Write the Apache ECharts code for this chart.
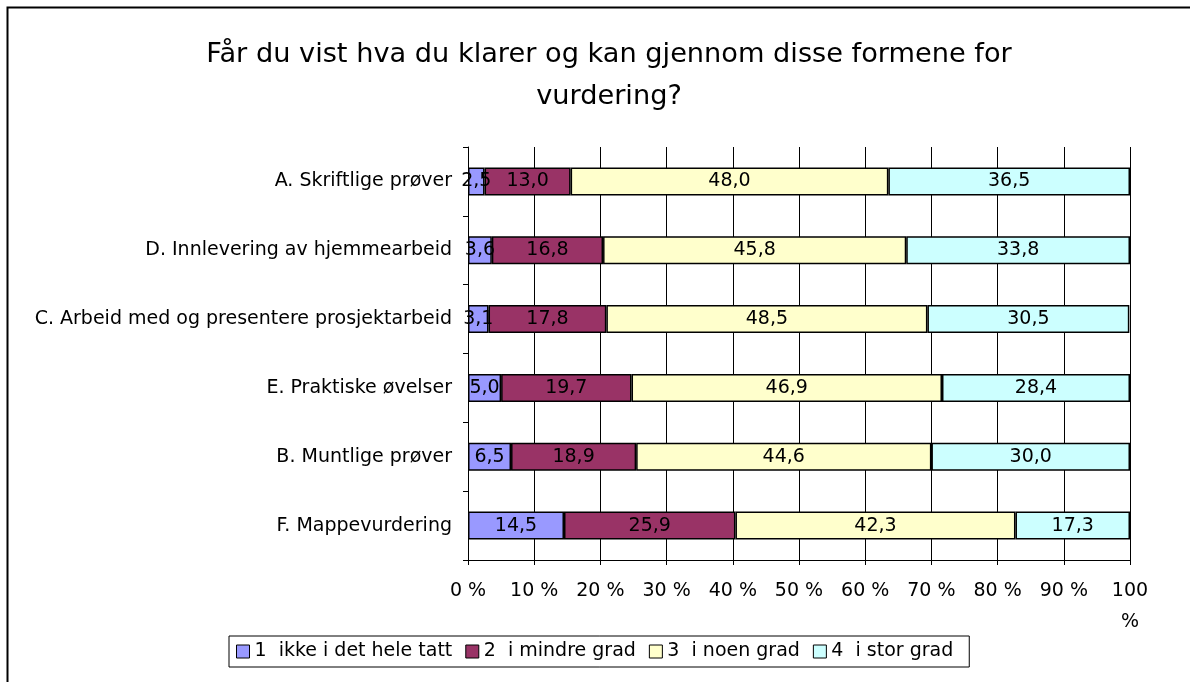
<!DOCTYPE html>
<html lang="no">
<head>
	<meta charset="UTF-8">
	<title>vurdering</title>
	<style>
		body{ margin: 0; background: #fff; }
		#main{ width: 1190px; height: 682px; }
	</style>
	<script src="https://cdn.jsdelivr.net/npm/echarts@6/dist/echarts.min.js"></script>
</head>
<body>
	<div id="main"></div>
	<script>
		// data
		var categories = [
			'A. Skriftlige prøver',
			'D. Innlevering av hjemmearbeid',
			'C. Arbeid med og presentere prosjektarbeid',
			'E. Praktiske øvelser',
			'B. Muntlige prøver',
			'F. Mappevurdering'
		];
		var seriesNames = ['1  ikke i det hele tatt', '2  i mindre grad', '3  i noen grad', '4  i stor grad'];
		var ikkeIDetHele = [2.5, 3.6, 3.1, 5.0, 6.5, 14.5];
		var iMindreGrad  = [13.0, 16.8, 17.8, 19.7, 18.9, 25.9];
		var iNoenGrad    = [48.0, 45.8, 48.5, 46.9, 44.6, 42.3];
		var iStorGrad    = [36.5, 33.8, 30.5, 28.4, 30.0, 17.3];
		var xTicks = [0, 10, 20, 30, 40, 50, 60, 70, 80, 90, 100];
		var colors = ['#9999FF', '#993366', '#FFFFCC', '#CCFFFF'];

		var font = 'DejaVu Sans';
		var fs = 19;
		var myChart = echarts.init(document.getElementById('main'));

		function makeSeries(name, data, color){
			return {
				name: name,
				type: 'bar',
				stack: 'tot',
				barWidth: 28,
				data: data,
				itemStyle: { color: color, borderColor: '#000', borderWidth: 1.5 },
				label: {
					show: true,
					position: 'inside',
					color: '#000',
					fontFamily: font,
					fontSize: fs,
					formatter: function(p){ return p.value.toFixed(1).replace('.', ','); }
				}
			};
		}

		var option = {
			animation: false,
			textStyle: { fontFamily: font },
			title: {
				text: 'Får du vist hva du klarer og kan gjennom disse formene for\nvurdering?',
				left: 604,
				top: 29,
				textAlign: 'center',
				textStyle: { fontFamily: font, fontSize: 27.2, fontWeight: 'normal', color: '#000', lineHeight: 42 }
			},
			graphic: [{
				type: 'rect',
				shape: { x: 7.5, y: 7.5, width: 1300, height: 800 },
				style: { fill: 'none', stroke: '#000', lineWidth: 2 }
			}],
			legend: {
				left: 229,
				top: 636,
				data: seriesNames,
				orient: 'horizontal',
				icon: 'rect',
				itemWidth: 13,
				itemHeight: 13,
				itemGap: 13,
				padding: [6, 16, 6, 7],
				borderColor: '#000',
				borderWidth: 1,
				itemStyle: { borderColor: '#000', borderWidth: 1 },
				textStyle: { fontFamily: font, fontSize: fs, color: '#000' }
			},
			grid: { left: 468, right: 60, top: 147, bottom: 122, containLabel: false },
			xAxis: {
				type: 'value',
				min: xTicks[0],
				max: xTicks[xTicks.length - 1],
				interval: 10,
				axisLine: { show: true, lineStyle: { color: '#000', width: 1 } },
				axisTick: { show: true, length: 5, lineStyle: { color: '#000' } },
				splitLine: { show: true, lineStyle: { color: '#000', width: 1 } },
				axisLabel: {
					color: '#000',
					fontSize: fs,
					fontFamily: font,
					margin: 16,
					lineHeight: 31,
					formatter: function(v){ return v === 100 ? '100\n%' : v + ' %'; }
				}
			},
			yAxis: {
				type: 'category',
				inverse: true,
				data: categories,
				axisLine: { show: true, lineStyle: { color: '#000', width: 1 } },
				axisTick: { show: true, length: 5, lineStyle: { color: '#000' } },
				axisLabel: { color: '#000', fontSize: fs, fontFamily: font, margin: 16 }
			},
			series: [
				makeSeries(seriesNames[0], ikkeIDetHele, colors[0]),
				makeSeries(seriesNames[1], iMindreGrad, colors[1]),
				makeSeries(seriesNames[2], iNoenGrad, colors[2]),
				makeSeries(seriesNames[3], iStorGrad, colors[3])
			]
		};

		myChart.setOption(option);
	</script>
</body>
</html>
